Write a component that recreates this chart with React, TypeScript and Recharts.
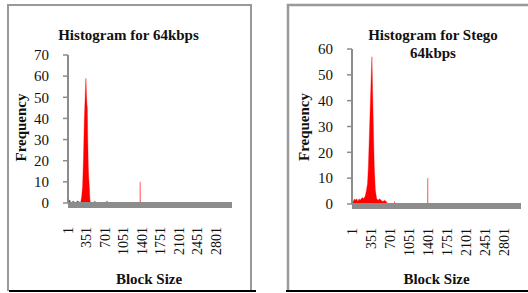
import { AreaChart, Area, XAxis, YAxis } from 'recharts';

const SERIF = '"Liberation Serif", "Times New Roman", serif';
const RED = '#ff0000';
const GREY = '#8c8c8c';

// x-axis labels (block size bins)
const blockTicks = [1, 351, 701, 1051, 1401, 1751, 2101, 2451, 2801];
const blockDomain = [1, 3110];

// Histogram for 64kbps
const blocks64 = [1, 30, 60, 100, 140, 180, 220, 240, 260, 278, 295, 310, 320, 329, 341, 348, 354, 360, 367, 376, 386, 395, 405, 417, 430, 490, 511, 530, 720, 740, 760, 1367, 1369, 1371, 3110];
const freq64 = [0, 1.5, 0, 1, 0, 1, 0.5, 0, 3, 8, 22, 39, 46, 52, 59, 54, 50, 47, 45, 30, 17, 12, 8, 1.5, 0, 0, 1, 0, 0, 1, 0, 0, 10, 0, 0];
const ticks64 = [0, 10, 20, 30, 40, 50, 60, 70];

// Histogram for Stego 64kbps
const blocksStego = [1, 10, 30, 50, 70, 90, 110, 131, 150, 170, 193, 215, 243, 265, 287, 303, 318, 337, 356, 368, 380, 393, 411, 430, 455, 480, 510, 536, 570, 600, 630, 660, 780, 785, 790, 1393, 1395, 1397, 3110];
const freqStego = [0, 2, 1, 2, 1.5, 2, 1, 2, 1.5, 2, 2.5, 2, 3, 5, 8, 15, 25, 38, 50.5, 57, 44, 31, 14.5, 5.5, 2, 1.5, 2, 1.5, 1, 1.5, 1, 0, 0, 1, 0, 0, 10, 0, 0];
const ticksStego = [0, 10, 20, 30, 40, 50, 60];

const rows = (xs: number[], ys: number[]) => xs.map((x, i) => ({ block: x, freq: ys[i] }));

const XTick = (props: any) => {
  const { x, payload, top } = props;
  return (
    <text x={x} y={top} transform={`rotate(-90, ${x}, ${top})`} textAnchor="end" dy="0.35em"
      fontFamily={SERIF} fontSize={14} fill="#111">
      {payload.value}
    </text>
  );
};

const Histogram = ({ data, yMax, yTicks, margin, labelTop }: any) => (
  <AreaChart width={264} height={293} data={data} margin={margin}>
    <XAxis
      dataKey="block"
      type="number"
      domain={blockDomain}
      ticks={blockTicks}
      interval={0}
      height={40}
      tickLine={false}
      axisLine={{ stroke: GREY, strokeWidth: 6, transform: 'translate(0,2)' }}
      tick={<XTick top={labelTop} />}
    />
    <YAxis
      type="number"
      domain={[0, yMax]}
      ticks={yTicks}
      interval={0}
      width={30}
      tickSize={5}
      tickMargin={14}
      axisLine={{ stroke: GREY, strokeWidth: 2 }}
      tickLine={{ stroke: GREY, strokeWidth: 1.5 }}
      tick={{ fontFamily: SERIF, fontSize: 15, fill: '#111' }}
    />
    <Area type="linear" dataKey="freq" stroke={RED} strokeWidth={0.35} fill={RED} fillOpacity={1}
      dot={false} activeDot={false} isAnimationActive={false} />
  </AreaChart>
);

const bold = { fontFamily: SERIF, fontWeight: 700, fontSize: 15, fill: '#111' } as const;

export default function App() {
  return (
    <div style={{ position: 'absolute', left: 0, top: 0, width: 528, height: 293, background: '#fff', overflow: 'hidden' }}>
      {/* left panel */}
      <div style={{ position: 'absolute', left: 0, top: 0 }}>
        <Histogram data={rows(blocks64, freq64)} yMax={70} yTicks={ticks64}
          margin={{ top: 55, right: 32, left: 38, bottom: 50 }} labelTop={227} />
      </div>
      {/* right panel */}
      <div style={{ position: 'absolute', left: 264, top: 0 }}>
        <Histogram data={rows(blocksStego, freqStego)} yMax={60} yTicks={ticksStego}
          margin={{ top: 49, right: 7, left: 58, bottom: 49 }} labelTop={228} />
      </div>
      <svg width={528} height={293} style={{ position: 'absolute', left: 0, top: 0, pointerEvents: 'none' }}>
        {/* frames */}
        <path d="M8 291 V5 H251 V291" fill="none" stroke="#999" strokeWidth={2} />
        <line x1={9} y1={291} x2={256} y2={291} stroke="#000" strokeWidth={2} />
        <path d="M288 291 V5 H530" fill="none" stroke="#999" strokeWidth={2.5} />
        <line x1={286} y1={291} x2={528} y2={291} stroke="#000" strokeWidth={2} />

        <text x={128.5} y={40} textAnchor="middle" {...bold}>Histogram for 64kbps</text>
        <text x={433} y={40} textAnchor="middle" {...bold}>Histogram for Stego</text>
        <text x={433} y={58} textAnchor="middle" {...bold}>64kbps</text>

        <text x={21} y={127.5} transform="rotate(-90, 21, 127.5)" textAnchor="middle" dy="0.35em" {...bold}>Frequency</text>
        <text x={303.5} y={127} transform="rotate(-90, 303.5, 127)" textAnchor="middle" dy="0.35em" {...bold}>Frequency</text>

        <text x={149} y={284} textAnchor="middle" {...bold}>Block Size</text>
        <text x={436.5} y={284} textAnchor="middle" {...bold}>Block Size</text>
      </svg>
    </div>
  );
}
